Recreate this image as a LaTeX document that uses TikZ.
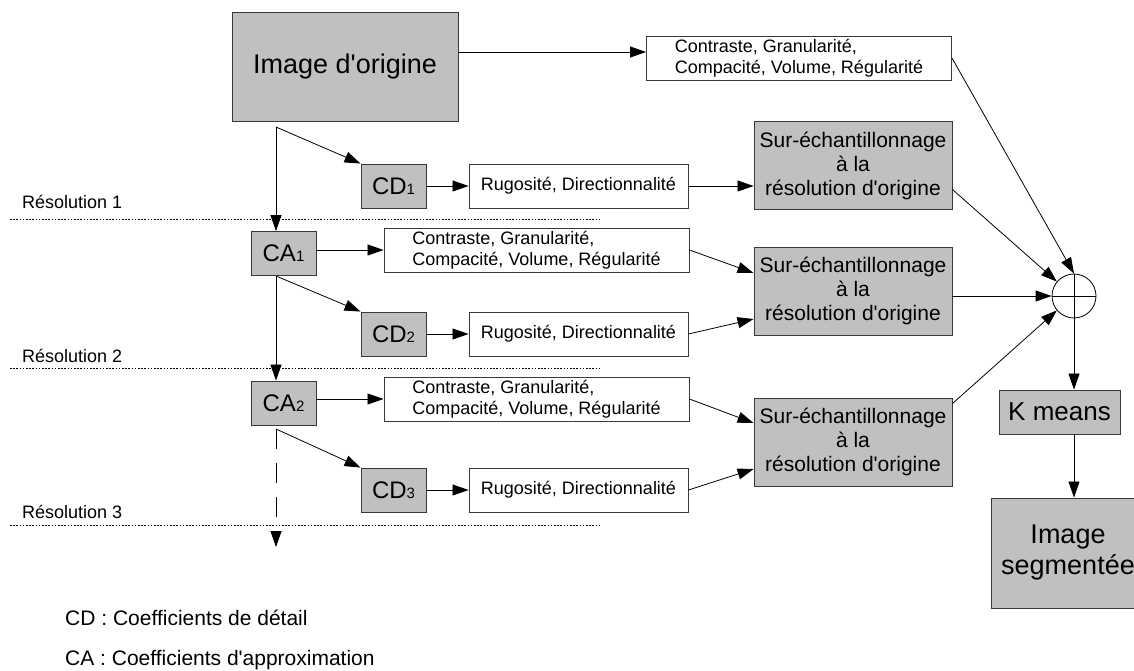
\documentclass[tikz,border=0pt]{standalone}
\usepackage{fontspec}
\setmainfont{Liberation Sans}
\usepackage{tikz}
\usetikzlibrary{arrows.meta}
\definecolor{boxgray}{HTML}{C0C0C0}
\definecolor{boxedge}{HTML}{3A3A3A}
\newcommand{\fsz}[1]{\fontsize{#1}{#1}\selectfont}
\newcommand{\idx}[1]{{\fontsize{15}{15}\selectfont #1}}
\newcommand{\apos}{\textquotesingle}

\begin{document}
\begin{tikzpicture}[x=1pt,y=-1pt,
    graybox/.style={draw=boxedge,fill=boxgray,line width=0.9pt,inner sep=0pt,align=center},
    whitebox/.style={draw=boxedge,fill=white,line width=0.9pt,inner sep=0pt,minimum height=44pt,font=\fontsize{18}{20.5}\selectfont},
    featbox/.style={whitebox,minimum width=305pt,align=left},
    rugbox/.style={whitebox,minimum width=219pt},
    coefbox/.style={graybox,minimum width=65pt,minimum height=44pt,font=\fsz{24}},
    surbox/.style={graybox,minimum width=198pt,minimum height=88pt,font=\fontsize{21}{24}\selectfont},
    arr/.style={-{Triangle[length=16pt,width=11pt]},line width=0.8pt},
    resline/.style={dash pattern=on 1.6pt off 1.6pt,line width=0.8pt},
    reslabel/.style={anchor=base west,inner sep=0pt,font=\fsz{18}}]
  \useasboundingbox (0,0) rectangle (1134,670);

  \node[graybox,minimum width=226pt,minimum height=109pt,font=\fsz{27}] (orig) at (345,66.5) {Image d\apos origine};
  \node[featbox] (feat0) at (799,58) {Contraste, Granularité,\\Compacité, Volume, Régularité};

  \node[coefbox] (cd1) at (393.5,186) {CD\idx{1}};
  \node[rugbox] (rug1) at (578.5,186) {Rugosité, Directionnalité};
  \node[surbox] (sur1) at (853,165.5) {Sur-échantillonnage\\à la\\résolution d\apos origine};

  \node[coefbox] (ca1) at (283.5,253.5) {CA\idx{1}};
  \node[featbox] (feat1) at (536.5,250) {Contraste, Granularité,\\Compacité, Volume, Régularité};
  \node[coefbox] (cd2) at (393.5,334) {CD\idx{2}};
  \node[rugbox] (rug2) at (578.5,334) {Rugosité, Directionnalité};
  \node[surbox] (sur2) at (853,291) {Sur-échantillonnage\\à la\\résolution d\apos origine};

  \node[coefbox] (ca2) at (283.5,403) {CA\idx{2}};
  \node[featbox] (feat2) at (536.5,399) {Contraste, Granularité,\\Compacité, Volume, Régularité};
  \node[coefbox] (cd3) at (393.5,490) {CD\idx{3}};
  \node[rugbox] (rug3) at (578.5,490) {Rugosité, Directionnalité};
  \node[surbox] (sur3) at (853,442) {Sur-échantillonnage\\à la\\résolution d\apos origine};

  \node[draw,circle,line width=0.8pt,minimum size=44pt,inner sep=0pt] (sum) at (1074,296) {};
  \draw[line width=0.8pt] (sum.north) -- (sum.south) (sum.west) -- (sum.east);
  \node[graybox,minimum width=121pt,minimum height=44pt,font=\fsz{26}] (kmeans) at (1059.5,412) {K means};
  \node[graybox,minimum width=154pt,minimum height=110pt,font=\fontsize{27}{31}\selectfont] (seg) at (1068,553) {Image\\segmentée};

  % branch points of the decomposition
  \coordinate (b0) at (276,127);
  \coordinate (b1) at (276,276);
  \coordinate (b2) at (276,429);
  \coordinate (bend) at (276,547);

  \draw[arr] ([yshift=14.5pt]orig.east) -- ([yshift=14.5pt]orig.east -| feat0.west);
  \draw[arr] (b0) -- (b0 |- ca1.north);
  \draw[arr] (b0) -- (cd1.north west);
  \draw[arr] (cd1.east) -- (rug1.west);
  \draw[arr] (rug1.east) -- (rug1.east -| sur1.west);

  \draw[arr] (ca1.east |- feat1.west) -- (feat1.west);
  \draw[arr] (b1 |- ca1.south) -- (b1 |- ca2.north);
  \draw[arr] (b1) -- (cd2.north west);
  \draw[arr] (cd2.east) -- (rug2.west);
  \draw[arr] (feat1.east) -- ([yshift=18pt]sur2.west);
  \draw[arr] (rug2.east) -- ([yshift=-28pt]sur2.west);

  \draw[arr] (ca2.east |- feat2.west) -- (feat2.west);
  \draw[arr,dash pattern=on 20pt off 14pt] (b2) -- (bend);
  \draw[arr] (b2) -- (cd3.north west);
  \draw[arr] (cd3.east) -- (rug3.west);
  \draw[arr] (feat2.east) -- ([yshift=19pt]sur3.west);
  \draw[arr] (rug3.east) -- ([yshift=-27pt]sur3.west);

  \draw[arr] (feat0.east) -- (sum.north);
  \draw[arr] ([yshift=-24pt]sur1.east) -- (sum.140);
  \draw[arr] (sur2.east |- sum.west) -- (sum.west);
  \draw[arr] ([yshift=-6pt]sur3.north east) -- (sum.220);
  \draw[arr] (sum.south) -- (sum.south |- kmeans.north);
  \draw[arr] (sum.south |- kmeans.south) -- (sum.south |- seg.north);

  % resolution levels
  \draw[resline] (10,219) -- (600,219);
  \draw[resline] (10,368) -- (600,368);
  \draw[resline] (10,525) -- (600,525);
  \node[reslabel] (res1) at (22,208) {Résolution 1};
  \node[reslabel] (res2) at (22,362) {Résolution 2};
  \node[reslabel] (res3) at (22,518) {Résolution 3};

  \node[anchor=base west,inner sep=0pt,font=\fsz{21}] (legcd) at (65,625) {CD : Coefficients de détail};
  \node[anchor=base west,inner sep=0pt,font=\fsz{21}] (legca) at (65,665) {CA : Coefficients d\apos approximation};
\end{tikzpicture}
\end{document}
